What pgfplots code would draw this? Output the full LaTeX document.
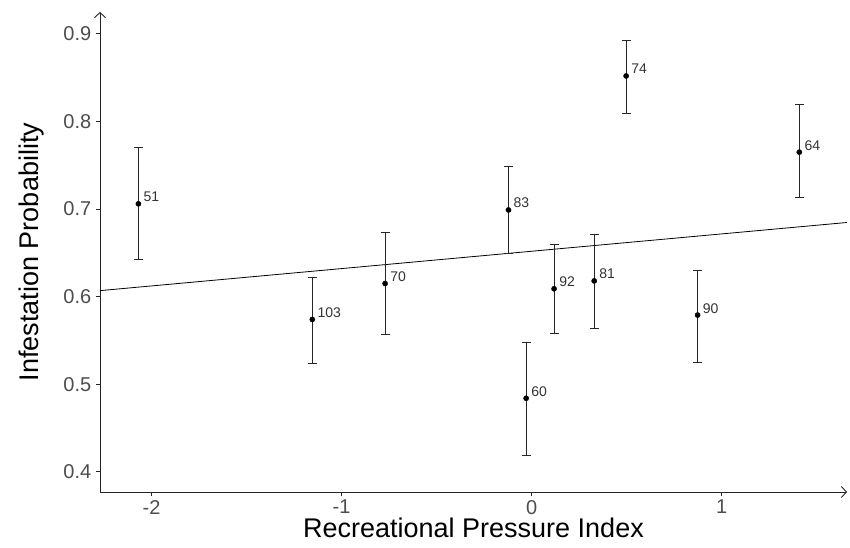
\documentclass[border=0pt]{standalone}
\usepackage{pgfplots}
\pgfplotsset{compat=1.18}
\usepackage{fontspec}
\setmainfont{Liberation Sans}
\usetikzlibrary{arrows.meta}
\definecolor{ticklab}{RGB}{77,77,77}
\begin{document}
\begin{tikzpicture}
\begin{axis}[
  at={(0,0)}, anchor=south west,
  scale only axis, width=747pt, height=480pt,
  xmin=-2.271, xmax=1.659, ymin=0.377, ymax=0.925,
  axis lines=left,
  axis line style={black!85, line width=0.9pt, -{Straight Barb[length=5pt,width=11pt,line width=0.9pt]}},
  xtick={-2,-1,0,1}, xticklabels={-2,-1,0,1},
  ytick={0.4,0.5,0.6,0.7,0.8,0.9}, yticklabels={0.4,0.5,0.6,0.7,0.8,0.9},
  tick align=outside, major tick length=4pt,
  tick style={black!85, line width=0.9pt},
  every tick label/.append style={inner sep=0pt, text=ticklab, font=\fontsize{20}{24}\selectfont},
  yticklabel style={anchor=east, xshift=-4.5pt},
  xticklabel style={anchor=north, yshift=-4pt},
  xlabel={Recreational Pressure Index},
  ylabel={Infestation Probability},
  xlabel style={at={(axis description cs:0.5,-0.0938)}, anchor=base, inner sep=0pt, font=\fontsize{27}{30}\selectfont},
  ylabel style={at={(axis description cs:-0.0817,0.5)}, anchor=base, inner sep=0pt, font=\fontsize{27}{30}\selectfont},
  clip=false,
]
\addplot[black, line width=0.8pt] coordinates {(-2.271,0.6069) (1.659,0.6847)};
\addplot[only marks, mark=*, mark size=2.6pt, black,
  error bars/y dir=both, error bars/y explicit,
  error bars/error bar style={line width=1pt, black!85},
  error bars/error mark options={rotate=90, line width=1pt, mark size=4.5pt, black!85},
  nodes near coords, point meta=explicit symbolic,
  every node near coord/.append style={anchor=base west, inner sep=0pt, xshift=5pt, yshift=2pt, text=black!80, font=\fontsize{14}{16}\selectfont},
] table[x=x, y=y, y error plus=ep, y error minus=em, meta=lab] {
x y ep em lab
-2.069 0.706 0.064 0.064 51
-1.154 0.574 0.048 0.050 103
-0.771 0.615 0.058 0.058 70
-0.122 0.699 0.050 0.050 83
-0.029 0.484 0.064 0.065 60
0.118 0.609 0.051 0.051 92
0.329 0.618 0.053 0.054 81
0.497 0.852 0.041 0.043 74
0.873 0.579 0.051 0.054 90
1.408 0.765 0.054 0.052 64
};
\end{axis}
\pgfresetboundingbox
\path (-100pt,-55pt) rectangle (750pt,492pt);
\end{tikzpicture}
\end{document}
